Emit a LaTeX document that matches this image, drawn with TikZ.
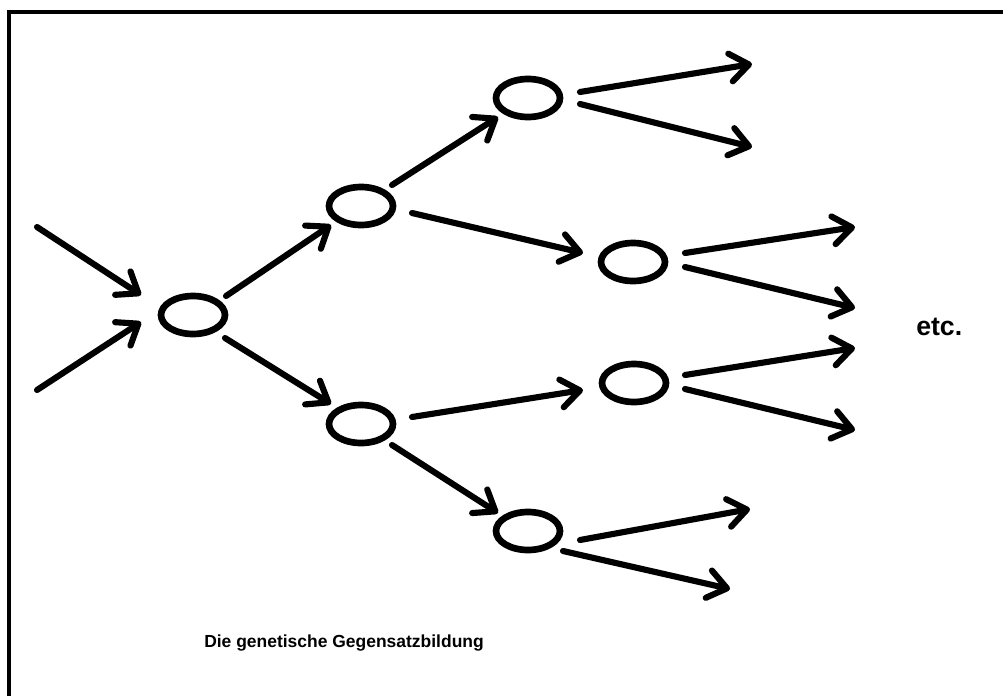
\documentclass[tikz,border=0pt]{standalone}
\usepackage{fontspec}
\setmainfont{Liberation Sans}
\usetikzlibrary{arrows.meta,shapes.geometric,calc}
\begin{document}
\begin{tikzpicture}[x=0.75pt,y=-0.75pt,
  cell/.style={draw,ellipse,line width=5pt,minimum width=48pt,minimum height=28.5pt,inner sep=0pt},
  link/.style={line width=4.6pt,line cap=round,line join=round,
    -{Straight Barb[length=14pt,width=21pt,round]}},
  frame/.style={line width=3pt}]
\useasboundingbox (0,0) rectangle (1003,696);

% open frame: top and left edges only
\draw[frame] (9,696) -- (9,12) -- (1003,12);

% generations of the tree
\node[cell] (r) at (193,315) {};
\node[cell] (a) at (361,206) {};
\node[cell] (b) at (361,424) {};
\node[cell] (c) at (528,98) {};
\node[cell] (d) at (633,262) {};
\node[cell] (e) at (634,383) {};
\node[cell] (f) at (528,531) {};

% incoming lines
\coordinate (s1) at (37,227);
\coordinate (s2) at (37,390);
\draw[link] (s1) -- ($(r)+(-52,-20)$);
\draw[link] (s2) -- ($(r)+(-52,7)$);

% branches between cells
\draw[link] ($(r)+(33,-19)$) -- ($(a)+(-30,19)$);
\draw[link] ($(r)+(32,23)$) -- ($(b)+(-30,-20)$);
\draw[link] ($(a)+(31,-21)$) -- ($(c)+(-30,19)$);
\draw[link] ($(a)+(51,7)$) -- ($(d)+(-50,-9)$);
\draw[link] ($(b)+(51,-7)$) -- ($(e)+(-51,7)$);
\draw[link] ($(b)+(31,21)$) -- ($(f)+(-30,-18)$);

% open ends
\coordinate (c1) at (752,64);
\coordinate (c2) at (752,147);
\coordinate (d1) at (855,227);
\coordinate (d2) at (855,308);
\coordinate (e1) at (855,348);
\coordinate (e2) at (855,430);
\coordinate (f1) at (750,509);
\coordinate (f2) at (730,589);
\draw[link] ($(c)+(52,-6)$) -- (c1);
\draw[link] ($(c)+(52,6)$) -- (c2);
\draw[link] ($(d)+(52,-9)$) -- (d1);
\draw[link] ($(d)+(52,5)$) -- (d2);
\draw[link] ($(e)+(51,-8)$) -- (e1);
\draw[link] ($(e)+(51,6)$) -- (e2);
\draw[link] ($(f)+(52,9)$) -- (f1);
\draw[link] ($(f)+(35,20)$) -- (f2);

\node[anchor=base west,font=\bfseries\fontsize{20}{24}\selectfont,inner sep=0pt] (etc) at (916,335) {etc.};
\node[anchor=base west,font=\bfseries\fontsize{13.1}{16}\selectfont,inner sep=0pt] (cap) at (204,647) {Die genetische Gegensatzbildung};
\end{tikzpicture}
\end{document}
